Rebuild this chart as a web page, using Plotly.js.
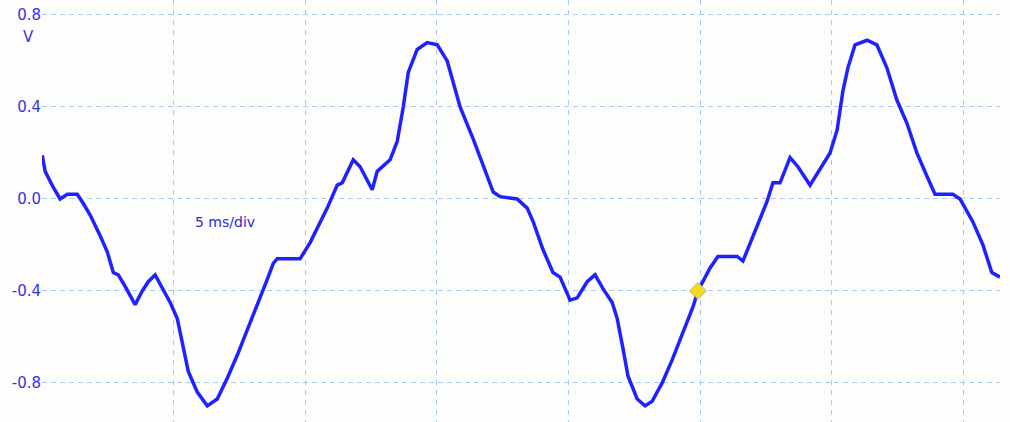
<!DOCTYPE html>
<html>
<head>
<meta charset="utf-8">
<script src="https://cdn.plot.ly/plotly-3.0.1.min.js"></script>
<style>html,body{margin:0;padding:0;background:#fdfdfc;}#chart{width:1010px;height:422px;}</style>
</head>
<body>
<div id="chart"></div>
<script>
// Oscilloscope trace, time in ms, voltage in V
const timeMs = [0, 0.11, 0.42, 0.68, 0.95, 1.33, 1.56, 1.82, 2.20, 2.47, 2.70, 2.89, 3.15, 3.53, 3.80, 4.03, 4.29, 4.56, 4.86, 5.13, 5.36, 5.55, 5.89, 6.27, 6.65, 7.03, 7.41, 7.79, 8.17, 8.55, 8.78, 8.93, 9.80, 10.18, 10.83, 11.21, 11.40, 11.82, 12.08, 12.54, 12.73, 13.22, 13.49, 13.72, 13.91, 14.25, 14.63, 15.01, 15.39, 15.88, 16.38, 16.76, 17.14, 17.40, 18.05, 18.43, 18.66, 19.03, 19.41, 19.68, 20.06, 20.33, 20.71, 21.01, 21.31, 21.66, 21.85, 22.07, 22.26, 22.61, 22.91, 23.18, 23.56, 23.94, 24.35, 24.73, 24.92, 25.38, 25.68, 26.41, 26.63, 27.01, 27.55, 27.77, 28.04, 28.42, 28.72, 29.18, 29.56, 29.94, 30.21, 30.43, 30.62, 30.89, 31.35, 31.72, 32.10, 32.48, 32.86, 33.24, 33.62, 33.93, 34.61, 34.88, 35.37, 35.75, 36.09, 36.40];
const volts = [0.19, 0.12, 0.05, 0.00, 0.02, 0.02, -0.02, -0.07, -0.16, -0.23, -0.32, -0.33, -0.38, -0.46, -0.40, -0.36, -0.33, -0.39, -0.45, -0.52, -0.64, -0.75, -0.84, -0.90, -0.87, -0.78, -0.68, -0.57, -0.47, -0.35, -0.28, -0.26, -0.26, -0.19, -0.04, 0.06, 0.07, 0.17, 0.14, 0.04, 0.12, 0.17, 0.25, 0.40, 0.55, 0.65, 0.68, 0.67, 0.60, 0.40, 0.26, 0.14, 0.03, 0.01, 0.00, -0.04, -0.10, -0.22, -0.32, -0.34, -0.44, -0.43, -0.36, -0.33, -0.39, -0.45, -0.52, -0.65, -0.77, -0.87, -0.90, -0.88, -0.80, -0.70, -0.58, -0.47, -0.40, -0.30, -0.25, -0.25, -0.27, -0.16, -0.01, 0.07, 0.07, 0.18, 0.14, 0.06, 0.13, 0.20, 0.30, 0.47, 0.57, 0.67, 0.69, 0.67, 0.57, 0.43, 0.33, 0.20, 0.10, 0.02, 0.02, 0.00, -0.10, -0.20, -0.32, -0.34];
const cursorTime = [24.92];
const cursorVolt = [-0.40];
const yTickVals = [0.8, 0.4, 0.0, -0.4, -0.8];
const yTickText = ['0.8', '0.4', '0.0', '-0.4', '-0.8'];
const xTickVals = [0, 5, 10, 15, 20, 25, 30, 35];
const unitLabel = 'V';
const scaleLabel = '5 ms/div';

const gridColor = '#a9c9ee';
const traces = [
  {
    x: timeMs, y: volts, type: 'scatter', mode: 'lines',
    line: {color: '#1f22ff', width: 3.5},
    hoverinfo: 'skip'
  },
  {
    x: cursorTime, y: cursorVolt, type: 'scatter', mode: 'markers',
    marker: {symbol: 'diamond', size: 13, color: '#f3dc16', line: {color: '#b9b39a', width: 1}},
    hoverinfo: 'skip'
  }
];
const layout = {
  width: 1010, height: 422,
  margin: {l: 42, r: 10, t: 0, b: 0},
  paper_bgcolor: '#fdfdfc', plot_bgcolor: '#fdfdfc',
  showlegend: false,
  xaxis: {
    range: [-0.01, 36.4], tickvals: xTickVals, showticklabels: false,
    showgrid: true, gridcolor: gridColor, gridwidth: 1, griddash: '5px,5px',
    zeroline: false, showline: false, ticks: ''
  },
  yaxis: {
    range: [-0.97, 0.865], tickvals: yTickVals, ticktext: yTickText,
    showgrid: true, gridcolor: gridColor, gridwidth: 1, griddash: '5px,4px',
    zeroline: false, showline: false, ticks: '',
    tickfont: {family: 'DejaVu Sans', size: 15, color: '#3434e6'}
  },
  annotations: [
    {xref: 'paper', yref: 'y', x: 0, y: 0.8, xanchor: 'right', yanchor: 'middle', xshift: -6, yshift: -22,
     text: unitLabel, showarrow: false, font: {family: 'DejaVu Sans', size: 15, color: '#3434e6'}},
    {xref: 'x', yref: 'y', x: 5.74, y: -0.10, xanchor: 'left', yanchor: 'middle',
     text: scaleLabel, showarrow: false, font: {family: 'DejaVu Sans', size: 14, color: '#2d2dcc'}}
  ]
};
Plotly.newPlot('chart', traces, layout, {displayModeBar: false, staticPlot: true});
</script>
</body>
</html>
